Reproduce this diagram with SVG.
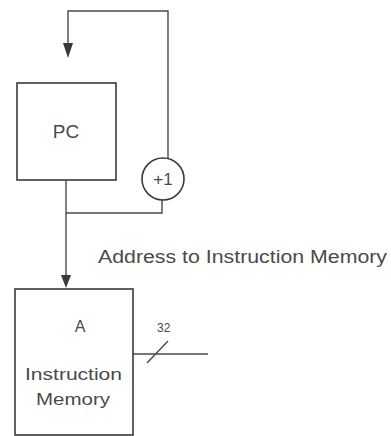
<svg xmlns="http://www.w3.org/2000/svg" width="391" height="436" viewBox="0 0 391 436">
<style>
.ln{fill:none;stroke:#4a4a4a;stroke-width:1.4}
.bx{fill:#fff;stroke:#3a3a3a;stroke-width:1.6}
.ah{fill:#3a3a3a}
.t{font-family:"Liberation Sans",Arial,sans-serif;fill:#4a4a4a}
</style>
<rect width="391" height="436" fill="#fff"/>
<g id="connectors">
<polyline class="ln" points="168,159 168,11 68,11 68,44"/>
<path class="ah" d="M63,43 L73,43 L68,58 Z"/>
<polyline class="ln" points="162,200 162,213 66,213"/>
<line class="ln" x1="66" y1="180" x2="66" y2="276"/>
<path class="ah" d="M61,275 L71,275 L66,288 Z"/>
<line class="ln" x1="133" y1="354" x2="208" y2="354"/>
<line class="ln" x1="147" y1="363" x2="168" y2="341"/>
<text class="t" x="157" y="332" font-size="12">32</text>
<text class="t" x="98" y="263" font-size="18" textLength="289" lengthAdjust="spacingAndGlyphs">Address to Instruction Memory</text>
</g>
<g id="pc">
<rect class="bx" x="17" y="83" width="99" height="97"/>
<text class="t" x="66" y="138" font-size="19" text-anchor="middle">PC</text>
</g>
<g id="inc">
<circle class="bx" cx="163" cy="179" r="21"/>
<text class="t" x="163" y="185" font-size="17" text-anchor="middle">+1</text>
</g>
<g id="imem">
<rect class="bx" x="15" y="289" width="118" height="146"/>
<text class="t" x="80" y="332" font-size="16" text-anchor="middle">A</text>
<text class="t" x="25" y="380" font-size="16" textLength="97" lengthAdjust="spacingAndGlyphs">Instruction</text>
<text class="t" x="36" y="405" font-size="16" textLength="74" lengthAdjust="spacingAndGlyphs">Memory</text>
</g>
</svg>
